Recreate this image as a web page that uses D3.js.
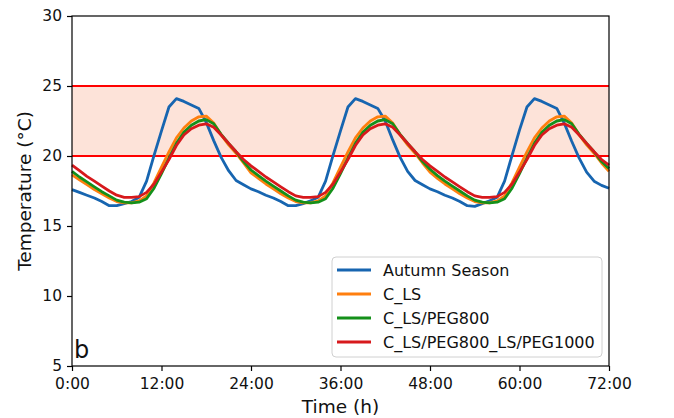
<!DOCTYPE html>
<html>
<head>
<meta charset="utf-8">
<script src="https://cdn.jsdelivr.net/npm/d3@7"></script>
<style>
  body { margin: 0; background: #fff; }
  text { font-family: "DejaVu Sans", sans-serif; }
</style>
</head>
<body>
<div class="chart"></div>
<script>
// hourly room temperatures over three autumn days

var hours = d3.range(0, 73);

var autumnSeason = [
  17.6, 17.4, 17.2, 17.0, 16.75, 16.45, 16.45, 16.6, 16.75, 17.05, 18.2, 20.05,
  21.8, 23.5, 24.1, 23.9, 23.65, 23.4, 22.4, 21.1, 19.9, 18.95, 18.25, 17.95,
  17.65, 17.45, 17.2, 17.0, 16.75, 16.45, 16.45, 16.6, 16.8, 17.05, 18.2, 20.05,
  21.8, 23.5, 24.1, 23.9, 23.65, 23.4, 22.5, 21.15, 19.9, 18.9, 18.25, 17.95,
  17.65, 17.45, 17.2, 17.0, 16.75, 16.45, 16.4, 16.6, 16.8, 17.05, 18.2, 20.05,
  21.85, 23.5, 24.1, 23.9, 23.65, 23.4, 22.35, 21.05, 19.85, 18.85, 18.2, 17.9,
  17.7
];

var cLS = [
  18.65, 18.3, 17.95, 17.6, 17.3, 17.0, 16.75, 16.65, 16.65, 16.8, 17.15, 18.1,
  19.2, 20.3, 21.3, 22.0, 22.5, 22.8, 22.85, 22.35, 21.5, 20.8, 20.2, 19.5,
  18.8, 18.4, 18.0, 17.65, 17.3, 17.0, 16.75, 16.65, 16.65, 16.8, 17.15, 18.1,
  19.2, 20.3, 21.3, 22.0, 22.5, 22.8, 22.85, 22.35, 21.5, 20.8, 20.2, 19.5,
  18.85, 18.4, 18.0, 17.65, 17.3, 17.0, 16.75, 16.65, 16.65, 16.8, 17.15, 18.1,
  19.2, 20.3, 21.3, 22.0, 22.5, 22.8, 22.85, 22.35, 21.5, 20.8, 20.2, 19.5,
  18.9
];

var cLSPeg800 = [
  18.9, 18.5, 18.15, 17.8, 17.45, 17.15, 16.85, 16.7, 16.65, 16.7, 16.95, 17.7,
  18.75, 19.85, 20.9, 21.7, 22.2, 22.5, 22.6, 22.3, 21.55, 20.9, 20.3, 19.6,
  19.0, 18.6, 18.2, 17.85, 17.5, 17.15, 16.85, 16.7, 16.65, 16.7, 16.95, 17.7,
  18.75, 19.85, 20.9, 21.7, 22.2, 22.5, 22.6, 22.3, 21.55, 20.9, 20.3, 19.6,
  19.05, 18.6, 18.2, 17.85, 17.5, 17.15, 16.85, 16.7, 16.65, 16.7, 16.95, 17.7,
  18.75, 19.85, 20.9, 21.7, 22.2, 22.5, 22.6, 22.3, 21.55, 20.9, 20.3, 19.6,
  19.1
];

var cLSPeg800LSPeg1000 = [
  19.35, 18.95, 18.55, 18.2, 17.85, 17.5, 17.2, 17.05, 17.05, 17.1, 17.4, 18.0,
  18.85, 19.75, 20.75, 21.5, 21.95, 22.2, 22.3, 22.05, 21.5, 20.9, 20.3, 19.75,
  19.3, 18.9, 18.5, 18.15, 17.8, 17.45, 17.15, 17.05, 17.05, 17.1, 17.4, 18.0,
  18.85, 19.75, 20.75, 21.5, 21.95, 22.2, 22.3, 22.05, 21.5, 20.9, 20.3, 19.75,
  19.3, 18.9, 18.5, 18.15, 17.8, 17.45, 17.15, 17.05, 17.05, 17.1, 17.4, 18.0,
  18.85, 19.75, 20.75, 21.5, 21.95, 22.2, 22.3, 22.05, 21.5, 20.9, 20.3, 19.75,
  19.35
];

var seriesNames = ['Autumn Season', 'C_LS', 'C_LS/PEG800', 'C_LS/PEG800_LS/PEG1000'];
var seriesColors = ['#1765b0', '#ff7f0e', '#14901a', '#d7191c'];
var xTicks = [0, 12, 24, 36, 48, 60, 72];
var yTicks = [5, 10, 15, 20, 25, 30];
var comfortBand = [20, 25];

var chart = {
  width: 674,
  height: 418,
  left: 72,
  right: 609,
  top: 16,
  bottom: 366
};

var svg = d3.select('.chart')
  .append('svg')
  .attr('width', chart.width)
  .attr('height', chart.height);

var x = d3.scaleLinear().domain([0, 72]).range([chart.left, chart.right]);
var y = d3.scaleLinear().domain([5, 30]).range([chart.bottom, chart.top]);

// comfort band 20-25 °C
svg.append('rect')
  .attr('x', x(0))
  .attr('y', y(comfortBand[1]))
  .attr('width', x(72) - x(0))
  .attr('height', y(comfortBand[0]) - y(comfortBand[1]))
  .attr('fill', '#fde3d9');

svg.selectAll('.limit')
  .data(comfortBand)
  .enter()
  .append('line')
  .attr('class', 'limit')
  .attr('x1', x(0))
  .attr('x2', x(72))
  .attr('y1', function(d){ return y(d); })
  .attr('y2', function(d){ return y(d); })
  .attr('stroke', '#ff0000')
  .attr('stroke-width', 2);

// temperature curves
var allSeries = [autumnSeason, cLS, cLSPeg800, cLSPeg800LSPeg1000];

var line = d3.line()
  .x(function(d, i){ return x(hours[i]); })
  .y(function(d){ return y(d); });

svg.append('g')
  .selectAll('path')
  .data(allSeries)
  .enter()
  .append('path')
  .attr('d', line)
  .attr('fill', 'none')
  .attr('stroke', function(d, i){ return seriesColors[i]; })
  .attr('stroke-width', 2.8)
  .attr('stroke-linejoin', 'round');

// axes
var xAxis = svg.append('g')
  .attr('transform', 'translate(0,' + chart.bottom + ')')
  .call(d3.axisBottom(x)
    .tickValues(xTicks)
    .tickSize(5)
    .tickPadding(7)
    .tickFormat(function(h){ return h + ':00'; }));

var yAxis = svg.append('g')
  .attr('transform', 'translate(' + chart.left + ',0)')
  .call(d3.axisLeft(y)
    .tickValues(yTicks)
    .tickSize(5)
    .tickPadding(5));

[xAxis, yAxis].forEach(function(ax){
  ax.select('.domain').remove();
  ax.selectAll('line').attr('stroke', '#000').attr('stroke-width', 1.2);
  ax.selectAll('text')
    .attr('fill', '#111')
    .style('font-size', '15.5px');
});

// frame
svg.append('rect')
  .attr('x', chart.left)
  .attr('y', chart.top)
  .attr('width', chart.right - chart.left)
  .attr('height', chart.bottom - chart.top)
  .attr('fill', 'none')
  .attr('stroke', '#000')
  .attr('stroke-width', 1.2);

svg.append('text')
  .attr('x', (chart.left + chart.right) / 2)
  .attr('y', 413)
  .attr('text-anchor', 'middle')
  .style('font-size', '18.5px')
  .attr('fill', '#111')
  .text('Time (h)');

svg.append('text')
  .attr('transform', 'translate(31,' + ((chart.top + chart.bottom) / 2) + ') rotate(-90)')
  .attr('text-anchor', 'middle')
  .style('font-size', '18.5px')
  .attr('fill', '#111')
  .text('Temperature (°C)');

svg.append('text')
  .attr('x', 74)
  .attr('y', 358)
  .style('font-size', '24px')
  .attr('fill', '#111')
  .text('b');

// legend
var legend = svg.append('g');

legend.append('rect')
  .attr('x', 332)
  .attr('y', 257)
  .attr('width', 270)
  .attr('height', 100)
  .attr('rx', 4)
  .attr('fill', '#fff')
  .attr('fill-opacity', 0.85)
  .attr('stroke', '#d0d0d0');

var rows = legend.selectAll('.row')
  .data(seriesNames)
  .enter()
  .append('g')
  .attr('class', 'row')
  .attr('transform', function(d, i){ return 'translate(0,' + (270 + i * 24) + ')'; });

rows.append('line')
  .attr('x1', 337)
  .attr('x2', 371)
  .attr('stroke', function(d, i){ return seriesColors[i]; })
  .attr('stroke-width', 2.8);

rows.append('text')
  .attr('x', 383)
  .attr('dy', '0.36em')
  .style('font-size', '16px')
  .attr('fill', '#111')
  .text(function(d){ return d; });
</script>
</body>
</html>
